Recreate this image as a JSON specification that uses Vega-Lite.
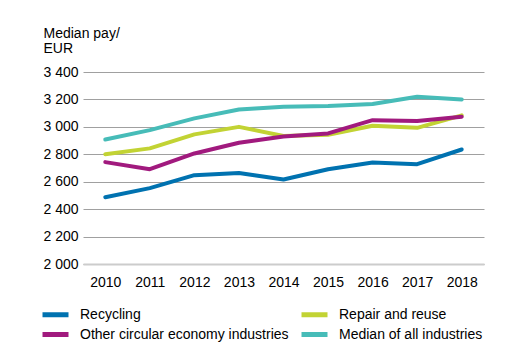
{
  "$schema": "https://vega.github.io/schema/vega-lite/v6.json",
  "autosize": "none",
  "width": 401,
  "height": 192,
  "padding": {"left": 83, "top": 72, "right": 27, "bottom": 97},
  "background": "white",
  "data": {"values": [
    {"year": "2010", "series": "Recycling", "pay": 2487},
    {"year": "2011", "series": "Recycling", "pay": 2553},
    {"year": "2012", "series": "Recycling", "pay": 2648},
    {"year": "2013", "series": "Recycling", "pay": 2664},
    {"year": "2014", "series": "Recycling", "pay": 2616},
    {"year": "2015", "series": "Recycling", "pay": 2691},
    {"year": "2016", "series": "Recycling", "pay": 2740},
    {"year": "2017", "series": "Recycling", "pay": 2728},
    {"year": "2018", "series": "Recycling", "pay": 2835},
    {"year": "2010", "series": "Repair and reuse", "pay": 2801},
    {"year": "2011", "series": "Repair and reuse", "pay": 2843},
    {"year": "2012", "series": "Repair and reuse", "pay": 2945},
    {"year": "2013", "series": "Repair and reuse", "pay": 3000},
    {"year": "2014", "series": "Repair and reuse", "pay": 2933},
    {"year": "2015", "series": "Repair and reuse", "pay": 2942},
    {"year": "2016", "series": "Repair and reuse", "pay": 3008},
    {"year": "2017", "series": "Repair and reuse", "pay": 2993},
    {"year": "2018", "series": "Repair and reuse", "pay": 3084},
    {"year": "2010", "series": "Other circular economy industries", "pay": 2743},
    {"year": "2011", "series": "Other circular economy industries", "pay": 2691},
    {"year": "2012", "series": "Other circular economy industries", "pay": 2806},
    {"year": "2013", "series": "Other circular economy industries", "pay": 2884},
    {"year": "2014", "series": "Other circular economy industries", "pay": 2930},
    {"year": "2015", "series": "Other circular economy industries", "pay": 2952},
    {"year": "2016", "series": "Other circular economy industries", "pay": 3049},
    {"year": "2017", "series": "Other circular economy industries", "pay": 3042},
    {"year": "2018", "series": "Other circular economy industries", "pay": 3074},
    {"year": "2010", "series": "Median of all industries", "pay": 2908},
    {"year": "2011", "series": "Median of all industries", "pay": 2976},
    {"year": "2012", "series": "Median of all industries", "pay": 3062},
    {"year": "2013", "series": "Median of all industries", "pay": 3127},
    {"year": "2014", "series": "Median of all industries", "pay": 3147},
    {"year": "2015", "series": "Median of all industries", "pay": 3152},
    {"year": "2016", "series": "Median of all industries", "pay": 3166},
    {"year": "2017", "series": "Median of all industries", "pay": 3220},
    {"year": "2018", "series": "Median of all industries", "pay": 3200}
  ]},
  "mark": {"type": "line", "strokeWidth": 4, "strokeCap": "round", "strokeJoin": "round"},
  "encoding": {
    "x": {
      "field": "year", "type": "ordinal",
      "scale": {"type": "point", "padding": 0.5},
      "axis": {
        "title": null, "labelAngle": 0, "ticks": false, "grid": false,
        "domain": true, "domainColor": "#cccccc", "domainWidth": 2,
        "labelPadding": 11, "labelFontSize": 14, "labelColor": "#000000",
        "labelFont": "Liberation Sans"
      }
    },
    "y": {
      "field": "pay", "type": "quantitative",
      "scale": {"domain": [2000, 3400], "nice": false, "zero": false},
      "axis": {
        "values": [2000, 2200, 2400, 2600, 2800, 3000, 3200, 3400],
        "labelExpr": "replace(format(datum.value, ','), ',', '\u00a0')",
        "title": ["Median pay/", "EUR"],
        "titleAngle": 0, "titleAlign": "left", "titleBaseline": "alphabetic",
        "titleX": -40, "titleY": -35, "titleFontWeight": "normal",
        "titleFontSize": 14, "titleLineHeight": 15, "titleFont": "Liberation Sans",
        "titleColor": "#000000",
        "ticks": false, "domain": false, "grid": true,
        "gridColor": "#a0a0a0", "gridWidth": 1,
        "labelPadding": 5, "labelFontSize": 14, "labelColor": "#000000",
        "labelFont": "Liberation Sans"
      }
    },
    "color": {
      "field": "series", "type": "nominal",
      "scale": {
        "domain": ["Recycling", "Repair and reuse", "Other circular economy industries", "Median of all industries"],
        "range": ["#0072b0", "#c2d334", "#a11a7e", "#47bcb8"]
      },
      "legend": {
        "title": null, "orient": "none", "direction": "horizontal", "columns": 2,
        "legendX": -35, "legendY": 235,
        "symbolType": "M-2.6,0H2.6", "symbolSize": 100, "symbolStrokeWidth": 5,
        "labelFontSize": 14, "labelFont": "Liberation Sans", "labelColor": "#000000",
        "labelOffset": 17, "columnPadding": 2, "rowPadding": -1, "padding": 0,
        "labelLimit": 400
      }
    }
  },
  "config": {"view": {"stroke": null}, "font": "Liberation Sans"}
}
